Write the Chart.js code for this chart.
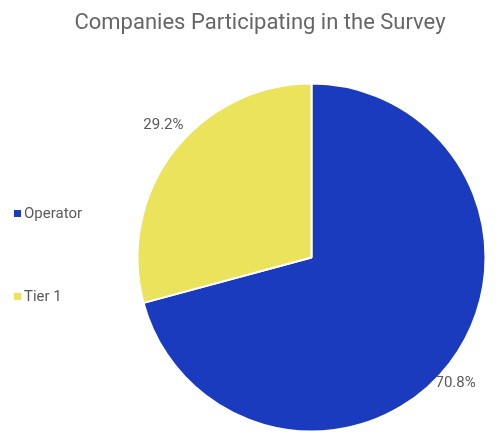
<!DOCTYPE html>
<html>
<head>
<meta charset="utf-8">
<script src="https://cdn.jsdelivr.net/npm/chart.js@4"></script>
<style>
  html, body { margin: 0; padding: 0; background: #fff; }
  #wrap { position: relative; width: 497px; height: 435px; }
</style>
</head>
<body>
<div id="wrap"><canvas id="pie" width="497" height="435"></canvas></div>
<script>
// Survey breakdown
const categories = ["Operator", "Tier 1"];
const shares = [70.8, 29.2];
const sliceColors = ["#1a3bbd", "#ebe35b"];
const chartTitle = "Companies Participating in the Survey";

// title, legend and outside percentage labels drawn on the canvas
const extras = {
  id: "extras",
  afterDraw(chart) {
    const ctx = chart.ctx;
    ctx.save();
    ctx.fillStyle = "#666";
    ctx.font = "22px Roboto";
    ctx.textAlign = "center";
    ctx.textBaseline = "middle";
    ctx.fillText(chartTitle, 260, 23);

    // legend on the left
    const legendY = [214, 297];
    ctx.font = "15px Roboto";
    ctx.textAlign = "left";
    categories.forEach((name, i) => {
      ctx.fillStyle = sliceColors[i];
      ctx.fillRect(14, legendY[i] - 4, 7, 7);
      ctx.fillStyle = "#5a5a5a";
      ctx.fillText(name, 24, legendY[i]);
    });

    // percentage labels outside each slice
    const meta = chart.getDatasetMeta(0);
    ctx.font = "15px Roboto";
    ctx.textAlign = "center";
    ctx.fillStyle = "#5a5a5a";
    meta.data.forEach((arc, i) => {
      const mid = (arc.startAngle + arc.endAngle) / 2 + 4 * Math.PI / 180;
      const d = arc.outerRadius * 1.12;
      const x = arc.x + Math.cos(mid) * d;
      const y = arc.y + Math.sin(mid) * d;
      ctx.fillText(shares[i].toFixed(1) + "%", x - 2, y - 3);
    });
    ctx.restore();
  }
};

new Chart(document.getElementById("pie"), {
  type: "pie",
  data: {
    labels: categories,
    datasets: [{
      data: shares,
      backgroundColor: sliceColors,
      borderColor: "#fff",
      borderWidth: 2
    }]
  },
  options: {
    responsive: false,
    animation: false,
    radius: 174,
    layout: { padding: { top: 83, bottom: 3, left: 138, right: 12 } },
    plugins: {
      legend: { display: false },
      title: { display: false },
      tooltip: { enabled: false }
    }
  },
  plugins: [extras]
});
</script>
</body>
</html>
